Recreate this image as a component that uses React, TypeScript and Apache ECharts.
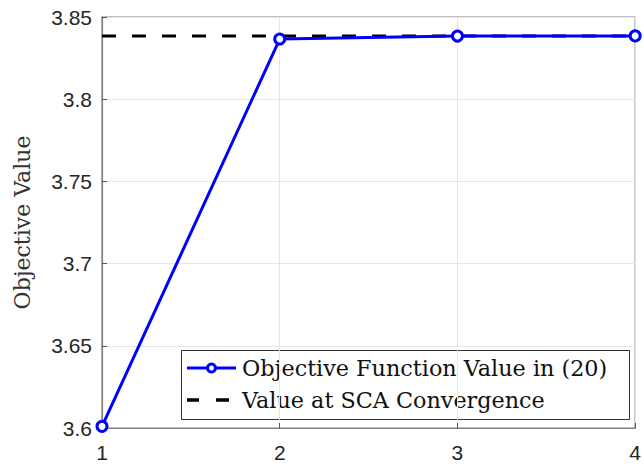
import React, { useEffect, useRef } from "react";
import * as echarts from "echarts";

const iterations = [1, 2, 3, 4];
const objectiveValues = [3.601, 3.8366, 3.8384, 3.8385];
const convergenceValue = 3.8385;
const yTicks = [3.6, 3.65, 3.7, 3.75, 3.8, 3.85];
const seriesNames = ["Objective Function Value in (20)", "Value at SCA Convergence"];

export default function App() {
  const ref = useRef<HTMLDivElement>(null);
  useEffect(() => {
    const chart = echarts.init(ref.current!, null, { renderer: "svg" });
    const tickFont = { fontFamily: "Liberation Sans, Arial, sans-serif", fontSize: 21, color: "#262626" };
    const legendFont = { fontFamily: "DejaVu Serif, Liberation Serif, serif", fontSize: 22.3, fill: "#111" };
    chart.setOption({
      animation: false,
      backgroundColor: "#fff",
      grid: { left: 102, right: 3, top: 17, bottom: 38, show: true, borderColor: "#808080", borderWidth: 1.2 },
      xAxis: {
        type: "value",
        min: 1,
        max: 4,
        interval: 1,
        axisLine: { show: true, onZero: false, lineStyle: { color: "#808080", width: 1.2 } },
        axisTick: { show: true, inside: true, length: 5, lineStyle: { color: "#555" } },
        axisLabel: { ...tickFont, margin: 14 },
        splitLine: { show: true, lineStyle: { color: "#e6e6e6", width: 1 } },
      },
      yAxis: {
        type: "value",
        min: yTicks[0],
        max: yTicks[yTicks.length - 1],
        interval: 0.05,
        name: "Objective Value",
        nameLocation: "middle",
        nameGap: 69,
        nameTextStyle: { fontFamily: "DejaVu Serif, Liberation Serif, serif", fontSize: 22, color: "#333" },
        axisLine: { show: true, lineStyle: { color: "#808080", width: 1.2 } },
        axisTick: { show: true, inside: true, length: 5, lineStyle: { color: "#555" } },
        axisLabel: { ...tickFont, margin: 10, formatter: (v: number) => String(parseFloat(v.toFixed(2))) },
        splitLine: { show: true, lineStyle: { color: "#e6e6e6", width: 1 } },
      },
      graphic: [
        {
          type: "group",
          z: 100,
          children: [
            { type: "rect", shape: { x: 181.5, y: 350.5, width: 448, height: 69 }, style: { fill: "#fff", stroke: "#333", lineWidth: 1 } },
            { type: "line", shape: { x1: 187, y1: 368, x2: 236, y2: 368 }, style: { stroke: "#0000ff", lineWidth: 3 } },
            { type: "circle", shape: { cx: 211.5, cy: 368, r: 4 }, style: { fill: "#fff", stroke: "#0000ff", lineWidth: 3 } },
            { type: "line", shape: { x1: 187, y1: 400, x2: 199, y2: 400 }, style: { stroke: "#000", lineWidth: 3.5 } },
            { type: "line", shape: { x1: 216, y1: 400, x2: 229, y2: 400 }, style: { stroke: "#000", lineWidth: 3.5 } },
            { type: "text", x: 242, y: 368, style: { text: seriesNames[0], ...legendFont, verticalAlign: "middle" } },
            { type: "text", x: 242, y: 400, style: { text: seriesNames[1], ...legendFont, verticalAlign: "middle" } },
          ],
        },
      ],
      series: [
        {
          name: seriesNames[0],
          type: "line",
          data: iterations.map((x, i) => [x, objectiveValues[i]]),
          lineStyle: { color: "#0000ff", width: 3 },
          itemStyle: { color: "#ffffff", borderColor: "#0000ff", borderWidth: 3 },
          symbol: "circle",
          symbolSize: 10,
          showAllSymbol: true,
          z: 3,
        },
        {
          name: seriesNames[1],
          type: "line",
          data: [
            [iterations[0], convergenceValue],
            [iterations[iterations.length - 1], convergenceValue],
          ],
          lineStyle: { color: "#000", width: 3, type: [14, 16] },
          symbol: "none",
          z: 2,
        },
      ],
    });
    return () => chart.dispose();
  }, []);
  return <div ref={ref} style={{ position: "absolute", left: 0, top: 0, width: 644, height: 466 }} />;
}
